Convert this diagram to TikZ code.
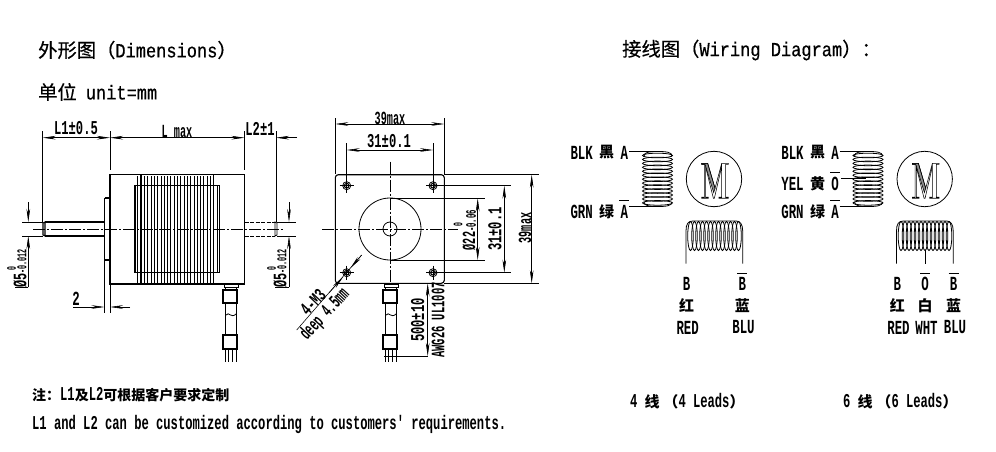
\documentclass[tikz,border=0pt]{standalone}
\usepackage{fontspec}
\usetikzlibrary{arrows.meta}
\newfontfamily\latc[FakeStretch=0.62]{Liberation Mono}
\newfontfamily\latn[FakeStretch=0.55]{Liberation Mono}
\newfontfamily\latm[FakeStretch=0.5]{Liberation Mono}
\newfontfamily\latw[FakeStretch=0.85,FakeBold=0.5]{Liberation Mono}
\newfontfamily\cjk{Noto Sans CJK SC}
\newfontfamily\cjkm[FakeBold=0.4]{Noto Sans CJK SC}
\newcommand{\tc}[1]{{\cjkm\fontsize{19.3}{19.3}\selectfont #1}}
\newcommand{\nc}[1]{{\cjk\bfseries\fontsize{14}{14}\selectfont #1}}
\newcommand{\lc}[1]{{\cjk\bfseries\fontsize{15}{15}\selectfont #1}}
\tikzset{
  lab/.style={font=\latc\bfseries\fontsize{#1}{#1}\selectfont,inner sep=0,text=black},
  labn/.style={font=\latn\bfseries\fontsize{#1}{#1}\selectfont,inner sep=0,text=black},
  labm/.style={font=\latm\bfseries\fontsize{#1}{#1}\selectfont,inner sep=0,text=black},
  title/.style={font=\latw\fontsize{20}{20}\selectfont,inner sep=0,anchor=west,text=black},
  cn/.style={font=\cjk\bfseries\fontsize{#1}{#1}\selectfont,inner sep=0,text=black},
  ln/.style={line width=0.8pt,black},
  thin line/.style={line width=0.55pt,black},
  thick line/.style={line width=1.1pt,black},
  cl/.style={line width=0.55pt,black,dash pattern=on 12pt off 2pt on 2pt off 2pt},
  dim/.style={line width=0.55pt,black,{Stealth[length=13pt,width=3.6pt]}-{Stealth[length=13pt,width=3.6pt]}},
  dimend/.style={line width=0.55pt,black,-{Stealth[length=13pt,width=3.6pt]}},
  hid/.style={line width=0.8pt,black,dash pattern=on 4pt off 1.5pt},
}
\newcommand{\cable}[1]{%
  \begin{scope}[xshift=#1pt]
    \draw[ln] (224,284) rectangle (238,287);
    \draw[ln] (225,287) rectangle (236,290);
    \draw[thick line] (223,290) rectangle (237,303);
    \draw[ln] (225,303) -- (225,335) (236,303) -- (236,335);
    \draw[ln] (226,315) .. controls (229,311) and (231,319) .. (236,314);
    \draw[thick line] (223,335) rectangle (237,349);
    \draw[ln] (225,349) -- (225,362) (228,349) -- (228,362) (232,349) -- (232,362) (236,349) -- (236,362);
  \end{scope}}
\newcommand{\mletter}[2]{%
  \begin{scope}[shift={(#1,#2)},x=0.333pt,y=-0.333pt]
    \draw[thin line,fill=black!45] (0,0) -- (18,0) -- (40,75) -- (36,88) -- (10,3) -- (0,3) -- cycle;
    \draw[thin line] (0,0) -- (18,0) -- (40,75) -- (60,0) -- (80,0) -- (80,3) -- (72,3) -- (72,102) -- (80,102) -- (80,105) -- (52,105) -- (52,102) -- (60,102) -- (60,10) -- (38,105) -- (35,105) -- (12,12) -- (12,102) -- (20,102) -- (20,105) -- (0,105) -- (0,102) -- (8,102) -- (8,3) -- (0,3) -- cycle;
  \end{scope}}
\newcommand{\hcoil}[1]{%
  \begin{scope}[xshift=#1pt]
    \draw[thin line] (629,151) -- (655,151);
    \draw[thin line] (629,206.5) -- (655,206.5);
    \draw[ln] (644,156) .. controls (644,152) and (650,151.5) .. (657,151.5) .. controls (666,151.5) and (672,152) .. (672,156);
    \draw[ln] (644,202) .. controls (644,206) and (650,206.5) .. (657,206.5) .. controls (666,206.5) and (672,206) .. (672,202);
    \foreach \k in {0,...,12} \draw[ln] (657.5,155.5+\k*3.95) ellipse [x radius=15,y radius=2.3];
  \end{scope}}
\newcommand{\vcoil}[1]{%
  \begin{scope}[xshift=#1pt]
    \draw[ln] (686,263.5) -- (686,231) .. controls (686,224) and (688,221) .. (693,221) -- (736,221) .. controls (740,221) and (742.7,224) .. (742.7,231) -- (742.7,263.5);
    \foreach \k in {0,...,12} \draw[ln] (690.5+\k*4,236) ellipse [x radius=2.8,y radius=14.5];
  \end{scope}}
\begin{document}
\begin{tikzpicture}[x=1pt,y=-1pt]
\useasboundingbox (0,0) rectangle (996,452);
\fill[white] (0,0) rectangle (996,452);
% titles
\node[title] (t1) at (38,50) {\tc{外形图（}Dimensions\tc{）}};
\node[title] (t2) at (38,92) {\tc{单位}\hspace{9pt}unit=mm};
\node[title] (t3) at (622,50) {\tc{接线图（}Wiring Diagram\tc{）：}};
% side view
\draw[thick line] (110,174.7) rectangle (244.5,284);
\draw[thick line] (104.5,198) -- (110,198);
\draw[thick line] (104.5,198) -- (104.5,260) -- (110,260);
\draw[thin line] (104.5,260) -- (104.5,313) (110,284) -- (110,313);
\draw[thick line] (135,185.7) rectangle (219.3,272.7);
\draw[thick line] (141,174.7) -- (141,284) (213.3,174.7) -- (213.3,284);
\draw[thick line] (135,185.7) -- (141,185.7) (213.3,185.7) -- (219.3,185.7);
\foreach \xx in {137.5,144.3,147.6,...,211} \draw[thin line] (\xx,176) -- (\xx,283);
\draw[thin line] (216.8,186) -- (216.8,272);
\draw[thick line] (45,222) -- (104.5,222) (45,236) -- (104.5,236);
\draw[thick line] (43,223) -- (43,235) -- (45,236) -- (45,222) -- (43,223);
\draw[thin line] (22,222) -- (43,222) (22,236) -- (43,236) (277,222) -- (296,222) (277,236) -- (296,236);
\draw[hid] (244.5,222) -- (275,222) (244.5,236) -- (275,236);
\draw[ln] (275,222) -- (277,223) -- (277,235) -- (275,236) -- cycle;
\draw[cl] (33,229) -- (283,229);
\cable{0}
% side dims
\draw[thin line] (42.7,131) -- (42.7,222) (110,131) -- (110,170) (244.5,131) -- (244.5,170) (276,131) -- (276,222);
\draw[dim] (42.7,137.7) -- (110,137.7);
\draw[dim] (110,137.7) -- (244.5,137.7);
\draw[dimend] (297,137.7) -- (276,137.7);
\node[lab=19.6] (l1) at (76,128.5) {L1±0.5};
\node[labn=18.5] (lm) at (177,131) {L max};
\node[lab=19.6] (l2) at (260,128.5) {L2±1};
\draw[dimend] (28.3,202) -- (28.3,222);
\draw[dimend] (28.3,287) -- (28.3,236);
\draw[dimend] (289,202) -- (289,222);
\draw[dimend] (289,287) -- (289,236);
\node[lab=19,rotate=90] (d1a) at (20,280) {Ø5};
\node[labm=13.5,rotate=90] (d1b) at (22,261.5) {-0.012};
\node[labm=13,rotate=90] (d1c) at (11.5,268.5) {0};
\node[lab=19,rotate=90] (d2a) at (280,280) {Ø5};
\node[labm=13.5,rotate=90] (d2b) at (282,261.5) {-0.012};
\node[labm=13,rotate=90] (d2c) at (271.5,268.5) {0};
\draw[thin line] (28.3,287) -- (15,287) (289,287) -- (275,287);
\draw[dimend] (73,307) -- (104.5,307);
\draw[dimend] (130,307) -- (110,307);
\node[lab=20] (two) at (76,299) {2};
% front view
\draw[thick line,rounded corners=3pt] (335.3,174.7) rectangle (444.3,283.3);
\draw[ln] (390,229) circle [radius=31];
\draw[ln] (390,229) circle [radius=7];
\foreach \hx/\hy in {346.7/185.7,433/185.7,346.7/272.7,433/272.7} {
  \draw[ln] (\hx,\hy) circle [radius=4];
  \draw[thick line] (\hx,\hy) circle [radius=2.3];
  \draw[thin line] (\hx-7,\hy) -- (\hx+7,\hy) (\hx,\hy-7) -- (\hx,\hy+7);
}
\draw[cl] (390,161.7) -- (390,284);
\draw[cl] (322,229) -- (458,229);
\cable{160}
\draw[thin line] (335.3,118) -- (335.3,174) (444.3,118) -- (444.3,174);
\draw[dim] (335.3,124) -- (444.3,124);
\node[labn=18.5] (w39) at (390,118) {39max};
\draw[thin line] (346.7,143) -- (346.7,192) (433,143) -- (433,192);
\draw[dim] (346.7,150) -- (433,150);
\node[lab=19.6] (w31) at (389,141) {31±0.1};
\draw[thin line] (444,174.7) -- (539.3,174.7) (444,283.3) -- (539.3,283.3);
\draw[thin line] (433,185.7) -- (511,185.7) (433,272.7) -- (511,272.7);
\draw[thin line] (390,198.3) -- (485,198.3) (390,260) -- (485,260);
\draw[dim] (531.7,174.7) -- (531.7,283.3);
\draw[dim] (504.3,185.7) -- (504.3,272.7);
\draw[dim] (477.7,198.3) -- (477.7,260);
\node[labn=18.5,rotate=90] (h39) at (525,228) {39max};
\node[lab=19.6,rotate=90] (h31) at (495,229) {31±0.1};
\node[labn=18.5,rotate=90] (h22) at (469,241) {Ø22};
\node[labm=14.5,rotate=90] (h22b) at (471,221) {-0.06};
\node[labm=13,rotate=90] (h22c) at (458,225) {0};
\draw[dim] (427.7,283.3) -- (427.7,356);
\draw[thin line] (384,356) -- (427.7,356);
\node[lab=19.6,rotate=90] (h500) at (417.7,320) {500±10};
\node[labn=19,rotate=90] (awg) at (438,320) {AWG26 UL1007};
\draw[thin line] (361.7,255) -- (296.7,330);
\draw[dimend] (361.7,255) -- (350.5,268);
\draw[dimend] (329,293) -- (343,277);
\node[lab=19,rotate=47] (m3) at (313,302) {4-M3};
\node[labn=19,rotate=47] (deep) at (325,314.5) {deep 4.5mm};
% wiring 4 leads
\hcoil{0}
\draw[ln] (714,179) circle [radius=27.7];
\mletter{701.7}{163.3}
\vcoil{0}
\node[lab=20] (a1) at (581.7,152.5) {BLK};
\node[cn=15] (a2) at (606.5,152.5) {黑};
\node[lab=20] (a3) at (624.3,152.5) {A};
\node[lab=20] (a4) at (581.7,211.5) {GRN};
\node[cn=15] (a5) at (606.5,211.5) {绿};
\node[lab=20] (a6) at (624.3,211.5) {A};
\draw[thin line] (619,200) -- (629,200);
\node[lab=20] (b1) at (686.7,283.5) {B};
\node[cn=15] (b2) at (686.7,306) {红};
\node[lab=20] (b3) at (687.7,327.5) {RED};
\node[lab=20] (b4) at (742.3,283.5) {B};
\node[cn=15] (b5) at (742.3,306) {蓝};
\node[lab=20] (b6) at (743.5,327.5) {BLU};
\draw[thin line] (737,273.3) -- (747,273.3);
% wiring 6 leads
\hcoil{210.5}
\draw[thin line] (841,178.3) -- (866,178.3);
\draw[ln] (924.7,179) circle [radius=27.7];
\mletter{912.4}{163.3}
\vcoil{210.5}
\draw[thin line] (925,250) -- (925,263.5);
\node[lab=20] (c1) at (792.5,152.5) {BLK};
\node[cn=15] (c2) at (817.5,152.5) {黑};
\node[lab=20] (c3) at (835,152.5) {A};
\node[lab=20] (c4) at (792.5,183.5) {YEL};
\node[cn=15] (c5) at (817.5,183.5) {黄};
\node[lab=20] (c6) at (835,183.5) {O};
\node[lab=20] (c7) at (792.5,211.5) {GRN};
\node[cn=15] (c8) at (817.5,211.5) {绿};
\node[lab=20] (c9) at (835,211.5) {A};
\draw[thin line] (830,172.7) -- (840,172.7) (830,200) -- (840,200);
\node[lab=20] (e1) at (897.3,283.5) {B};
\node[cn=15] (e2) at (897.3,306) {红};
\node[lab=20] (e3) at (898.5,327.5) {RED};
\node[lab=20] (e4) at (925,283.5) {O};
\node[cn=15] (e5) at (925,306) {白};
\node[lab=20] (e6) at (926.5,327.5) {WHT};
\node[lab=20] (e7) at (953.7,283.5) {B};
\node[cn=15] (e8) at (953.7,306) {蓝};
\node[lab=20] (e9) at (955,327.5) {BLU};
\draw[thin line] (920,273.3) -- (930,273.3) (948.5,273.3) -- (958.5,273.3);
% captions
\node[lab=19.6,anchor=west] (n1) at (32,394.5) {\nc{注：}L1\nc{及}L2\nc{可根据客户要求定制}};
\node[lab=19.6,anchor=west] (n2) at (32,424.5) {L1 and L2 can be customized according to customers' requirements.};
\node[lab=19.6,anchor=west] (n3) at (630,401.5) {4\hspace{7pt}\lc{线}\hspace{4pt}\lc{（}4 Leads\lc{）}};
\node[lab=19.6,anchor=west] (n4) at (843,401.5) {6\hspace{7pt}\lc{线}\hspace{4pt}\lc{（}6 Leads\lc{）}};
\end{tikzpicture}
\end{document}
